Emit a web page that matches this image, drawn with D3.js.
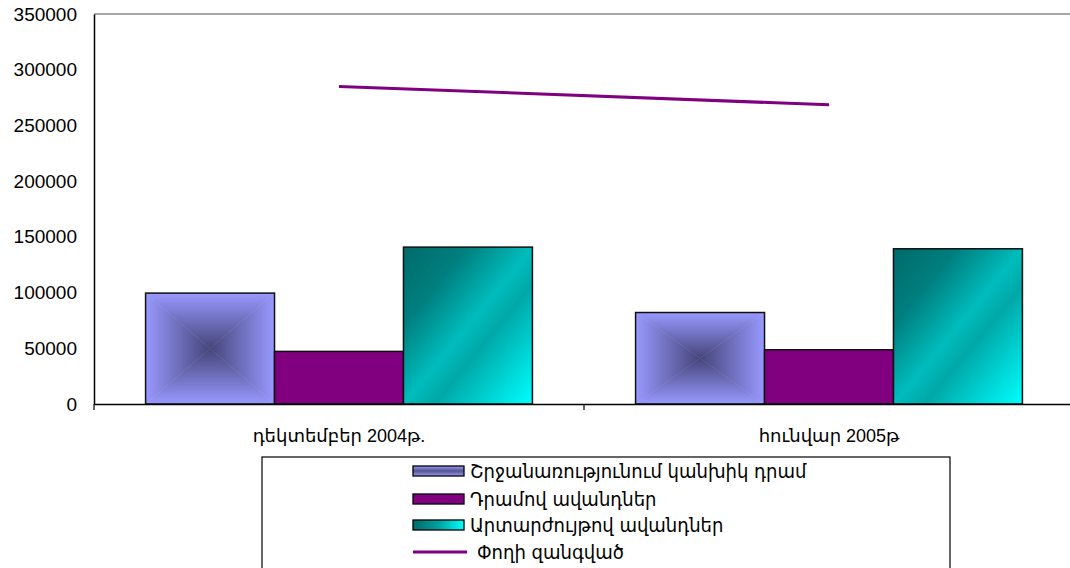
<!DOCTYPE html>
<html>
<head>
<meta charset="utf-8">
<script src="https://cdn.jsdelivr.net/npm/d3@7"></script>
<style>
  body { margin: 0; background: #fff; }
  svg { display: block; font-family: "Liberation Sans", Arial, sans-serif; }
</style>
</head>
<body>
<div id="chart"></div>
<script>
let categories = ["դեկտեմբեր 2004թ.", "հունվար 2005թ"];
let seriesNames = ["Շրջանառությունում կանխիկ դրամ", "Դրամով ավանդներ", "Արտարժույթով ավանդներ"];
let lineName = "Փողի զանգված";
let cashValues = [99500, 82100];
let dramDeposits = [47200, 48700];
let fxDeposits = [140800, 139300];
let moneySupply = [285000, 268500];
let yTicks = [0, 50000, 100000, 150000, 200000, 250000, 300000, 350000];

let width = 1070, height = 568;
// 定义图表边距
let margin = { top: 14, left: 94, bottom: 164 };
let plotRight = 1074;
let plotBottom = height - margin.bottom;

let svg = d3.select("#chart").append("svg")
    .attr("width", width)
    .attr("height", height);

let defs = svg.append("defs");

// 渐变定义
function linGrad(id, x1, y1, x2, y2, stops) {
    let g = defs.append("linearGradient").attr("id", id)
        .attr("x1", x1).attr("y1", y1).attr("x2", x2).attr("y2", y2);
    stops.forEach(s => g.append("stop").attr("offset", s[0]).attr("stop-color", s[1]));
}
linGrad("gTop", 0, 0, 0, 1, [[0, "#9999ff"], [1, "#45457a"]]);
linGrad("gBottom", 0, 1, 0, 0, [[0, "#9999ff"], [1, "#45457a"]]);
linGrad("gLeft", 0, 0, 1, 0, [[0, "#9999ff"], [1, "#45457a"]]);
linGrad("gRight", 1, 0, 0, 0, [[0, "#9999ff"], [1, "#45457a"]]);
linGrad("gTeal", 0, 0, 1, 1, [[0, "#006a6a"], [0.25, "#007f7f"], [0.5, "#00bcbc"], [0.62, "#00a8a8"], [1, "#00ffff"]]);
linGrad("gTealKey", 0, 0, 1, 0, [[0, "#006a6a"], [0.5, "#00a0a0"], [1, "#00ffff"]]);
linGrad("gBlueKey", 0, 0, 0, 1, [[0, "#9999ff"], [0.5, "#55558a"], [1, "#9999ff"]]);

let x0 = d3.scaleBand().domain(categories).range([margin.left, plotRight]);
let x1 = d3.scaleBand().domain([0, 1, 2]).range([0, x0.bandwidth()]).paddingOuter(0.4);
let y = d3.scaleLinear().domain([0, 350000]).range([plotBottom, margin.top]);

// 坐标轴
svg.append("line").attr("x1", margin.left).attr("x2", plotRight)
    .attr("y1", margin.top).attr("y2", margin.top)
    .attr("stroke", "#888").attr("stroke-width", 1.5);

let yAxis = d3.axisLeft(y).tickValues(yTicks).tickSize(0).tickPadding(17).tickFormat(d3.format("d"));
let gy = svg.append("g").attr("transform", `translate(${margin.left},0)`).call(yAxis);
gy.select(".domain").attr("stroke", "#000").attr("stroke-width", 1.5);
gy.selectAll("text").style("font-size", "19px").attr("fill", "#000")
    .style("font-family", "'Liberation Sans', Arial, sans-serif");

// 柱子
let seriesVals = [cashValues, dramDeposits, fxDeposits];
categories.forEach((c, ci) => {
    seriesVals.forEach((vals, si) => {
        let bx = x0(c) + x1(si), bw = x1.bandwidth();
        let by = y(vals[ci]), bb = y(0);
        let g = svg.append("g");
        if (si === 0) {
            let cx = bx + bw / 2, cy = (by + bb) / 2;
            let tris = [
                [[bx, by], [bx + bw, by], [cx, cy], "gTop"],
                [[bx, bb], [bx + bw, bb], [cx, cy], "gBottom"],
                [[bx, by], [bx, bb], [cx, cy], "gLeft"],
                [[bx + bw, by], [bx + bw, bb], [cx, cy], "gRight"]
            ];
            tris.forEach(t => {
                g.append("path")
                    .attr("d", d3.line()([t[0], t[1], t[2]]) + "Z")
                    .attr("fill", `url(#${t[3]})`)
                    .attr("stroke", `url(#${t[3]})`).attr("stroke-width", 0.5);
            });
            g.append("rect").attr("x", bx).attr("y", by).attr("width", bw).attr("height", bb - by)
                .attr("fill", "none").attr("stroke", "#111").attr("stroke-width", 1.5);
        } else {
            g.append("rect").attr("x", bx).attr("y", by).attr("width", bw).attr("height", bb - by)
                .attr("fill", si === 1 ? "#800080" : "url(#gTeal)")
                .attr("stroke", "#111").attr("stroke-width", 1.5);
        }
    });
});

// x 轴
let xAxis = d3.axisBottom(x0).tickSize(0).tickPadding(25);
let gx = svg.append("g").attr("transform", `translate(0,${plotBottom})`).call(xAxis);
gx.select(".domain").attr("stroke", "#000").attr("stroke-width", 1.5);
gx.selectAll("text").style("font-size", "18px").attr("fill", "#000")
    .style("font-family", "'Liberation Sans', 'DejaVu Sans', sans-serif");
[margin.left, x0(categories[1])].forEach(t => {
    svg.append("line").attr("x1", t).attr("x2", t).attr("y1", plotBottom).attr("y2", plotBottom + 6)
        .attr("stroke", "#000").attr("stroke-width", 1.2);
});

// 折线
let line = d3.line()
    .x((d, i) => x0(categories[i]) + x0.bandwidth() / 2)
    .y(d => y(d));
svg.append("path").datum(moneySupply)
    .attr("d", line).attr("fill", "none")
    .attr("stroke", "#800080").attr("stroke-width", 3);

// 图例
let legend = svg.append("g");
legend.append("rect").attr("x", 262).attr("y", 457).attr("width", 688).attr("height", 130)
    .attr("fill", "#fff").attr("stroke", "#000").attr("stroke-width", 1.2);
let keyFills = ["url(#gBlueKey)", "#800080", "url(#gTealKey)"];
let legendNames = seriesNames.concat([lineName]);
let rowY = [471, 499, 525, 552];
legendNames.forEach((name, i) => {
    let cy = rowY[i];
    if (i < 3) {
        legend.append("rect").attr("x", 413).attr("y", cy - 5).attr("width", 51).attr("height", 10)
            .attr("fill", keyFills[i]).attr("stroke", "#000").attr("stroke-width", 1.3);
    } else {
        legend.append("line").attr("x1", 413).attr("x2", 467).attr("y1", cy).attr("y2", cy)
            .attr("stroke", "#800080").attr("stroke-width", 3);
    }
    legend.append("text").attr("x", i < 3 ? 470 : 477).attr("y", cy).attr("dy", "0.35em")
        .style("font-size", "20px")
        .style("font-family", "'DejaVu Sans Condensed', 'DejaVu Sans', sans-serif")
        .attr("fill", "#000")
        .text(name);
});
</script>
</body>
</html>
